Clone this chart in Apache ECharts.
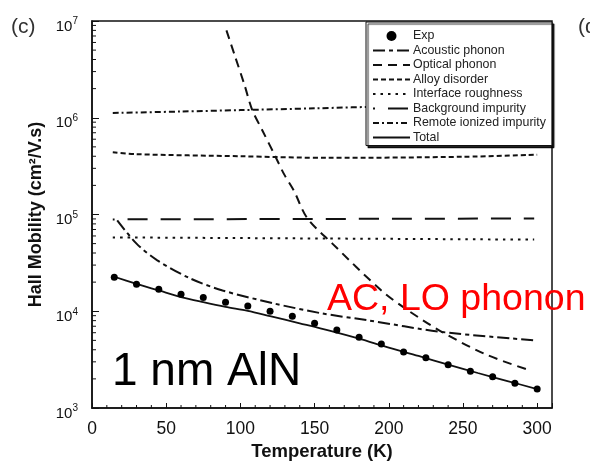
<!DOCTYPE html>
<html>
<head>
<meta charset="utf-8">
<script src="https://cdn.jsdelivr.net/npm/echarts@6/dist/echarts.min.js"></script>
<style>
  html, body { margin: 0; padding: 0; background: #fff; }
  #chart { width: 590px; height: 461px; }
</style>
</head>
<body>
<div id="chart"></div>
<script>
// Hall mobility (cm²/V.s) versus temperature (K) for a 1 nm AlN barrier,
// with each scattering-limited component drawn separately.

const expT  = [15, 30, 45, 60, 75, 90, 105, 120, 135, 150, 165, 180, 195, 210, 225, 240, 255, 270, 285, 300];
const expMu = [22500, 19000, 16900, 15000, 13900, 12400, 11300, 10000, 8900, 7500, 6400, 5400, 4600, 3800, 3300, 2800, 2400, 2100, 1800, 1570];

const acousticT  = [17, 30, 44, 66, 88, 122, 155, 185, 236, 299];
const acousticMu = [87000, 50000, 33600, 21900, 16400, 12100, 9500, 8100, 6100, 5000];

const opticalT  = [90.6, 96, 102.7, 108, 115, 123.5, 129.5, 136, 145, 162, 195, 213, 236, 265, 295];
const opticalMu = [8.0e6, 4.5e6, 2.2e6, 1.2e6, 7.3e5, 4.0e5, 2.6e5, 1.77e5, 9.2e4, 5.0e4, 1.64e4, 1.02e4, 6100, 3600, 2450];

const alloyT  = [14, 30, 100, 160, 250, 300];
const alloyMu = [4.4e5, 4.2e5, 4.0e5, 3.85e5, 3.95e5, 4.15e5];

const roughT  = [14, 298];
const roughMu = [5.8e4, 5.5e4];

const backgroundT  = [14, 298];
const backgroundMu = [8.9e4, 9.1e4];

const remoteT  = [14, 60, 100, 150, 200, 250, 300];
const remoteMu = [1.12e6, 1.16e6, 1.2e6, 1.25e6, 1.3e6, 1.3e6, 1.3e6];

const totalT  = [14, 30, 45, 60, 75, 90, 105, 120, 140, 160, 180, 200, 220, 240, 260, 280, 300];
const totalMu = [23000, 19200, 16400, 14000, 12400, 11100, 10100, 8900, 7500, 6300, 5200, 4200, 3450, 2800, 2300, 1900, 1570];

// minor tick positions on both axes
const xMinorTicks = [10, 20, 30, 40, 60, 70, 80, 90, 110, 120, 130, 140, 160, 170, 180, 190,
                     210, 220, 230, 240, 260, 270, 280, 290];
const yMinorTicks = [2e3, 3e3, 4e3, 5e3, 6e3, 7e3, 8e3, 9e3,
                     2e4, 3e4, 4e4, 5e4, 6e4, 7e4, 8e4, 9e4,
                     2e5, 3e5, 4e5, 5e5, 6e5, 7e5, 8e5, 9e5,
                     2e6, 3e6, 4e6, 5e6, 6e6, 7e6, 8e6, 9e6];

const legendNames = ['Exp', 'Acoustic phonon', 'Optical phonon', 'Alloy disorder',
                     'Interface roughness', 'Background impurity', 'Remote ionized impurity', 'Total'];

const FONT = 'Liberation Sans, Arial, Helvetica, sans-serif';
const INK = '#111';

const zip = (xs, ys) => xs.map((x, i) => [x, ys[i]]);

function curve(name, xs, ys, dash, width, offset) {
  return {
    name: name,
    type: 'line',
    data: zip(xs, ys),
    showSymbol: false,
    symbol: 'none',
    smooth: 0.3,
    silent: true,
    z: 3,
    color: INK,
    itemStyle: { color: INK },
    lineStyle: { color: INK, width: width || 2, type: dash, dashOffset: offset || 0 }
  };
}

function tickSeries(values, horizontal) {
  return {
    type: 'custom',
    silent: true,
    clip: false,
    z: 5,
    data: values.map(v => horizontal ? [0, v] : [v, 1000]),
    renderItem: function (params, api) {
      const p = api.coord([api.value(0), api.value(1)]);
      return {
        type: 'line',
        shape: horizontal
          ? { x1: p[0], y1: p[1], x2: p[0] + 4, y2: p[1] }
          : { x1: p[0], y1: p[1], x2: p[0], y2: p[1] - 3 },
        style: { stroke: INK, lineWidth: 1 }
      };
    }
  };
}

// legend entries: lines show only their dash pattern, Exp shows its dot
const legendData = legendNames.map(n => n === 'Exp'
  ? { name: n }
  : { name: n, itemStyle: { opacity: 0 } });

const chart = echarts.init(document.getElementById('chart'), null, { renderer: 'canvas' });

chart.setOption({
  animation: false,
  backgroundColor: '#fff',
  textStyle: { fontFamily: FONT },
  grid: {
    left: 92, right: 38, top: 21, bottom: 53,
    outerBoundsMode: 'none',
    containLabel: false,
    show: true, borderColor: INK, borderWidth: 1.5, backgroundColor: 'transparent'
  },
  xAxis: {
    type: 'value',
    min: 0, max: 310, interval: 50,
    name: 'Temperature (K)',
    nameLocation: 'middle',
    nameGap: 33,
    nameTextStyle: { fontFamily: FONT, fontWeight: 'bold', fontSize: 18.5, color: INK },
    axisLine: { show: true, lineStyle: { color: INK, width: 1.5 } },
    axisTick: { show: true, inside: true, length: 5, lineStyle: { color: INK, width: 1 } },
    axisLabel: {
      margin: 12, fontSize: 17.5, color: INK, fontFamily: FONT,
      formatter: v => (v % 50 === 0 ? String(v) : '')
    },
    splitLine: { show: false }
  },
  yAxis: {
    type: 'log',
    logBase: 10,
    min: 1000, max: 1e7,
    name: 'Hall Mobility (cm²/V.s)',
    nameLocation: 'middle',
    nameGap: 46,
    nameTextStyle: { fontFamily: FONT, fontWeight: 'bold', fontSize: 18, color: INK },
    axisLine: { show: true, lineStyle: { color: INK, width: 1.5 } },
    axisTick: { show: true, inside: true, length: 7, lineStyle: { color: INK, width: 1 } },
    axisLabel: {
      margin: 14,
      color: INK,
      formatter: v => '{b|10}{s|' + Math.round(Math.log10(v)) + '}',
      rich: {
        b: { fontSize: 15, fontFamily: FONT, color: INK, lineHeight: 15, padding: [11, 0, 0, 0] },
        s: { fontSize: 10, fontFamily: FONT, color: INK, lineHeight: 10, padding: [3, 0, 0, 0], verticalAlign: 'top' }
      }
    },
    splitLine: { show: false }
  },
  legend: {
    data: legendData,
    orient: 'vertical',
    left: 366,
    top: 22,
    itemWidth: 37,
    itemHeight: 10,
    itemGap: 2.5,
    padding: [8, 6, 2, 6],
    backgroundColor: '#fff',
    borderColor: INK,
    borderWidth: 1,
    shadowColor: 'rgba(0,0,0,0.85)',
    shadowBlur: 1,
    shadowOffsetX: 2,
    shadowOffsetY: 2,
    selectedMode: false,
    textStyle: { fontSize: 12.4, lineHeight: 12, color: '#222', fontFamily: FONT, padding: [0, 0, 0, -2] },
    z: 10
  },
  graphic: [
    { type: 'text', left: 11, top: 17, style: { text: '(c)', font: '21px ' + FONT, fill: '#333' } },
    { type: 'text', left: 578, top: 17, style: { text: '(d)', font: '21px ' + FONT, fill: '#333' } },
    { type: 'text', x: 112, y: 372, z: 20,
      style: { text: '1 nm AlN', font: '46px ' + FONT, fill: '#000', textVerticalAlign: 'middle' } },
    { type: 'text', x: 327, y: 300, z: 20,
      style: { text: 'AC, LO phonon', font: '37.5px ' + FONT, fill: '#ff0000', textVerticalAlign: 'middle' } }
  ],
  series: [
    {
      name: 'Exp',
      type: 'scatter',
      data: zip(expT, expMu),
      symbol: 'circle',
      symbolSize: 7,
      silent: true,
      z: 4,
      color: '#000',
      itemStyle: { color: '#000', opacity: 1 }
    },
    curve('Acoustic phonon', acousticT, acousticMu, [12, 4, 4, 4]),
    curve('Optical phonon', opticalT, opticalMu, [9, 6]),
    curve('Alloy disorder', alloyT, alloyMu, [5, 3]),
    curve('Interface roughness', roughT, roughMu, [2.5, 5]),
    curve('Background impurity', backgroundT, backgroundMu, [20, 13], 2, 18),
    curve('Remote ionized impurity', remoteT, remoteMu, [6, 3, 2, 3]),
    curve('Total', totalT, totalMu, 'solid', 1.8),
    tickSeries(xMinorTicks, false),
    tickSeries(yMinorTicks, true)
  ]
});
</script>
</body>
</html>
